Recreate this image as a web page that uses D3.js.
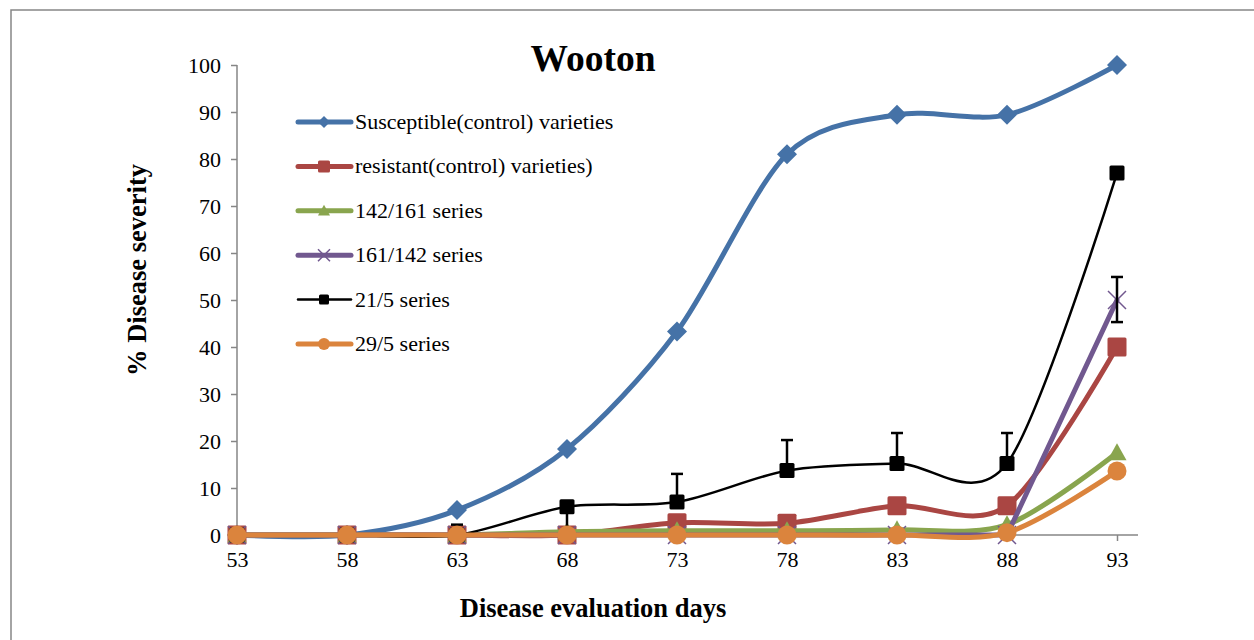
<!DOCTYPE html>
<html lang="en">
<head>
<meta charset="UTF-8">
<title>Wooton</title>
<script src="https://cdnjs.cloudflare.com/ajax/libs/d3/7.8.5/d3.min.js"></script>
<style>
  body { margin: 0; background: #fff; }
  text { font-family: "Liberation Serif", "Times New Roman", serif; }
</style>
</head>
<body>
<div id="chart"></div>
<script>
// data
var days = [53, 58, 63, 68, 73, 78, 83, 88, 93];
var yTicks = [0, 10, 20, 30, 40, 50, 60, 70, 80, 90, 100];

var susceptible = [0, 0, 5.3, 18.3, 43.3, 81, 89.4, 89.4, 100];
var resistant   = [0, 0, 0, 0, 2.6, 2.5, 6.2, 6.2, 40];
var s142_161    = [0, 0, 0, 0.7, 0.9, 0.9, 1.1, 2.2, 17.5];
var s161_142    = [0, 0, 0, 0, 0, 0, 0, 0, 50];
var s21_5       = [0, 0, 0, 6, 7, 13.7, 15.2, 15.2, 77];
var s29_5       = [0, 0, 0, 0, 0, 0, 0, 0.5, 13.6];

// error bars (absolute low / high)
var errDays = [63, 68, 73, 78, 83, 88, 93];
var errLow  = [0, 0, 7, 13.7, 15.2, 15.2, 45.3];
var errHigh = [2.2, 6, 13, 20.2, 21.7, 21.7, 54.9];

var seriesNames = ["Susceptible(control) varieties", "resistant(control) varieties)",
  "142/161 series", "161/142 series", "21/5 series", "29/5 series"];

var series = [
  { name: seriesNames[0], values: susceptible, color: "#4572A7", width: 5, marker: "diamond", size: 20, smooth: true },
  { name: seriesNames[1], values: resistant, color: "#AA4643", width: 5, marker: "square", size: 19, smooth: true },
  { name: seriesNames[2], values: s142_161, color: "#89A54E", width: 5, marker: "triangle", size: 19, smooth: true },
  { name: seriesNames[3], values: s161_142, color: "#71588F", width: 5, marker: "cross", size: 18, smooth: false },
  { name: seriesNames[4], values: s21_5, color: "#000000", width: 2.5, marker: "square", size: 15, smooth: true },
  { name: seriesNames[5], values: s29_5, color: "#DB843D", width: 5, marker: "circle", size: 19, smooth: true }
];

var W = 1254, H = 640;
var svg = d3.select("#chart").append("svg").attr("width", W).attr("height", H);

// outer frame
svg.append("rect").attr("x", 11).attr("y", 10).attr("width", 1300).attr("height", 700)
  .attr("fill", "none").attr("stroke", "#868686").attr("stroke-width", 1.5);

var x = d3.scaleLinear().domain([53, 93]).range([237, 1117]);
var y = d3.scaleLinear().domain([0, 100]).range([535, 65]);

var axisColor = "#868686";

// y axis
var yAxis = svg.append("g").attr("transform", "translate(237,0)")
  .call(d3.axisLeft(y).tickValues(yTicks).tickSize(6).tickPadding(10));
yAxis.select(".domain").attr("stroke", axisColor).attr("stroke-width", 1.5).attr("d", "M0,65V535");
yAxis.selectAll(".tick line").attr("stroke", axisColor).attr("stroke-width", 1.5);
yAxis.selectAll(".tick text").attr("font-size", 22).attr("fill", "#000")
  .attr("font-family", "Liberation Serif, serif");

// x axis
var xAxis = svg.append("g").attr("transform", "translate(0,535)")
  .call(d3.axisBottom(x).tickValues(days).tickSize(6).tickPadding(10).tickFormat(d3.format("d")));
xAxis.select(".domain").attr("stroke", axisColor).attr("stroke-width", 1.5).attr("d", "M237,0H1138");
xAxis.selectAll(".tick line").attr("stroke", axisColor).attr("stroke-width", 1.5);
xAxis.selectAll(".tick text").attr("font-size", 22).attr("fill", "#000")
  .attr("font-family", "Liberation Serif, serif");

// titles
svg.append("text").attr("x", 593).attr("y", 71).attr("text-anchor", "middle")
  .attr("font-size", 37.5).attr("font-weight", "bold").text("Wooton");
svg.append("text").attr("x", 593).attr("y", 617).attr("text-anchor", "middle")
  .attr("font-size", 26.5).attr("font-weight", "bold").text("Disease evaluation days");
svg.append("text").attr("transform", "translate(146,270) rotate(-90)").attr("text-anchor", "middle")
  .attr("font-size", 26.5).attr("font-weight", "bold").text("% Disease severity");

function drawMarker(g, type, cx, cy, size, color) {
  var h = size / 2;
  if (type === "diamond") {
    g.append("path").attr("d", "M" + cx + "," + (cy - h) + "L" + (cx + h) + "," + cy + "L" + cx + "," + (cy + h) + "L" + (cx - h) + "," + cy + "Z")
      .attr("fill", color);
  } else if (type === "square") {
    g.append("rect").attr("x", cx - h).attr("y", cy - h).attr("width", size).attr("height", size)
      .attr("rx", 1.5).attr("fill", color);
  } else if (type === "triangle") {
    g.append("path").attr("d", "M" + cx + "," + (cy - h) + "L" + (cx + h) + "," + (cy + h * 0.8) + "L" + (cx - h) + "," + (cy + h * 0.8) + "Z")
      .attr("fill", color);
  } else if (type === "circle") {
    g.append("circle").attr("cx", cx).attr("cy", cy).attr("r", h).attr("fill", color);
  } else if (type === "cross") {
    g.append("path").attr("d", "M" + (cx - h) + "," + (cy - h) + "L" + (cx + h) + "," + (cy + h) + "M" + (cx + h) + "," + (cy - h) + "L" + (cx - h) + "," + (cy + h))
      .attr("stroke", color).attr("stroke-width", 1.5).attr("fill", "none");
  }
}

var plot = svg.append("g");

series.forEach(function(s) {
  var pts = days.map(function(d, i) { return [x(d), y(s.values[i])]; });
  var line = d3.line().curve(s.smooth ? d3.curveCardinal.tension(0.1) : d3.curveLinear);
  var g = plot.append("g");
  g.append("path").attr("d", line(pts)).attr("fill", "none").attr("stroke", s.color)
    .attr("stroke-width", s.width).attr("stroke-linejoin", "round").attr("stroke-linecap", "round");

  if (s.name === "21/5 series") {
    errDays.forEach(function(d, i) {
      var ex = x(d), y0 = y(errLow[i]), y1 = y(errHigh[i]);
      g.append("line").attr("x1", ex).attr("x2", ex).attr("y1", y0).attr("y2", y1)
        .attr("stroke", "#000").attr("stroke-width", 2.5);
      [y0, y1].forEach(function(yy) {
        g.append("line").attr("x1", ex - 6).attr("x2", ex + 6).attr("y1", yy).attr("y2", yy)
          .attr("stroke", "#000").attr("stroke-width", 2.5);
      });
    });
  }
  pts.forEach(function(p) { drawMarker(g, s.marker, p[0], p[1], s.size, s.color); });
});

// legend
var legend = svg.append("g");
series.forEach(function(s, i) {
  var ly = 122 + i * 44.4;
  legend.append("line").attr("x1", 298).attr("x2", 351).attr("y1", ly).attr("y2", ly)
    .attr("stroke", s.color).attr("stroke-width", s.width).attr("stroke-linecap", "round");
  drawMarker(legend, s.marker, 324, ly, s.marker === "square" && s.width < 3 ? 10 : 12, s.color);
  legend.append("text").attr("x", 355).attr("y", ly + 7).attr("font-size", 22).text(s.name);
});
</script>
</body>
</html>
